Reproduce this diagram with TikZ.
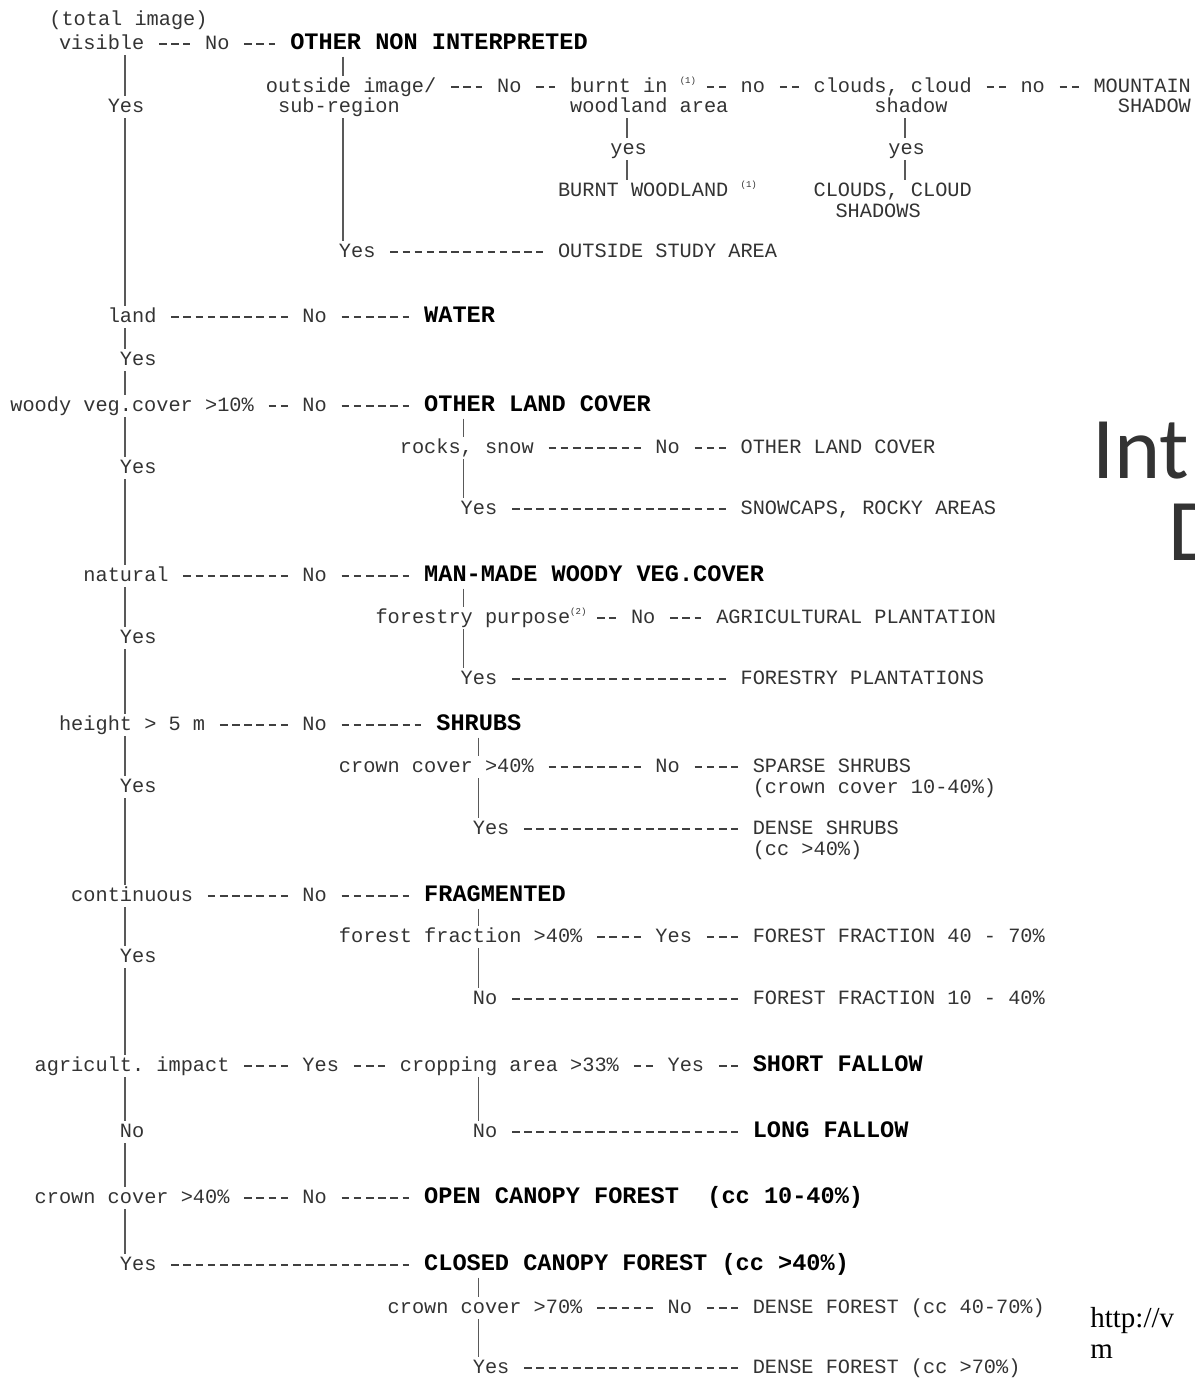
\documentclass[tikz,border=0pt]{standalone}
\usepackage{fontspec}
\usepackage{tikz}
\usetikzlibrary{calc}
\newfontfamily\chartfont{Liberation Mono}
\newfontfamily\slidefont{Carlito}
\newfontfamily\webfont{Liberation Serif}
% footnote mark, one typewriter cell wide
\newcommand{\supnote}[1]{\makebox[0.6em][l]{\raisebox{0.8ex}{\fontsize{4.5pt}{4.5pt}\selectfont(#1)}}}
\tikzset{
  lbl/.style={anchor=west, inner xsep=0pt, inner ysep=1pt, text height=7pt, text depth=2pt,
    font=\chartfont\frenchspacing\fontsize{10.14pt}{10.5pt}\selectfont, text=black!80},
  cls/.style={lbl, text height=8pt, text depth=2.3pt,
    font=\chartfont\frenchspacing\bfseries\fontsize{11.8pt}{12pt}\selectfont, text=black},
  hyph/.style={draw=black!75, line width=0.6pt, dash pattern=on 3.8pt off 2.285pt,
    shorten <=7.23pt, shorten >=7.23pt},
  stem/.style={draw=black!65, line width=0.55pt}
}
\begin{document}
% x counts typewriter columns, y counts pixels downwards
\begin{tikzpicture}[x=6.085pt, y=-0.5pt]
  \useasboundingbox (-0.8217,0) rectangle (97.37,1378);
  % x of the vertical lines
  \coordinate (trunk) at (9.45,0);
  \coordinate (brA) at (27.36,0);
  \coordinate (brB) at (37.3,0);
  \coordinate (brC) at (38.46,0);
  \coordinate (brW) at (50.7,0);
  \coordinate (brS) at (73.54,0);

  % main column
  \node[lbl] (total) at (3.2,20) {(total image)};
  \node[lbl] (visible) at (4,44) {visible};
  \node[lbl] (noA) at (16,44) {No};
  \node[cls] (oni) at (23,44) {OTHER NON INTERPRETED};
  \node[lbl] (yesA) at (8,107) {Yes};
  \node[lbl] (land) at (8,317) {land};
  \node[lbl] (noL) at (24,317) {No};
  \node[cls] (water) at (34,317) {WATER};
  \node[lbl] (yesL) at (9,360) {Yes};
  \node[lbl] (woody) at (0,406) {woody veg.cover >10\%};
  \node[lbl] (noW) at (24,406) {No};
  \node[cls] (olc) at (34,406) {OTHER LAND COVER};
  \node[lbl] (yesWd) at (9,468) {Yes};
  \node[lbl] (natural) at (6,576) {natural};
  \node[lbl] (noN) at (24,576) {No};
  \node[cls] (manmade) at (34,576) {MAN-MADE WOODY VEG.COVER};
  \node[lbl] (yesN) at (9,638) {Yes};
  \node[lbl] (height) at (4,725) {height > 5 m};
  \node[lbl] (noH) at (24,725) {No};
  \node[cls] (shrubs) at (35,725) {SHRUBS};
  \node[lbl] (yesH) at (9,787) {Yes};
  \node[lbl] (cont) at (5,896) {continuous};
  \node[lbl] (noCt) at (24,896) {No};
  \node[cls] (frag) at (34,896) {FRAGMENTED};
  \node[lbl] (yesCt) at (9,957) {Yes};
  \node[lbl] (agric) at (2,1066) {agricult.\ impact};
  \node[lbl] (yesAg) at (24,1066) {Yes};
  \node[lbl] (noAg) at (9,1132) {No};
  \node[lbl] (crownF) at (2,1198) {crown cover >40\%};
  \node[lbl] (noO) at (24,1198) {No};
  \node[cls] (open) at (34,1198) {OPEN CANOPY FOREST \ (cc 10-40\%)};
  \node[lbl] (yesO2) at (9,1265) {Yes};
  \node[cls] (closed) at (34,1265) {CLOSED CANOPY FOREST (cc >40\%)};

  % not interpreted
  \node[lbl] (outside) at (21,87) {outside image/};
  \node[lbl] (subreg) at (22,107) {sub-region};
  \node[lbl] (noB) at (40,87) {No};
  \node[lbl] (burnt) at (46,87) {burnt in \supnote{1}};
  \node[lbl] (woodland) at (46,107) {woodland area};
  \node[lbl] (noC) at (60,87) {no};
  \node[lbl] (clouds) at (66,87) {clouds, cloud};
  \node[lbl] (shadowA) at (71,107) {shadow};
  \node[lbl] (noD) at (83,87) {no};
  \node[lbl] (mountain) at (89,87) {MOUNTAIN};
  \node[lbl] (mountain2) at (91,107) {SHADOW};
  \node[lbl] (yesW) at (49.3,149) {yes};
  \node[lbl] (burntW) at (45,191) {BURNT WOODLAND \supnote{1}};
  \node[lbl] (yesC) at (72.14,149) {yes};
  \node[lbl] (cloudsU) at (66,191) {CLOUDS, CLOUD};
  \node[lbl] (cloudsU2) at (67.8,212) {SHADOWS};
  \node[lbl] (yesO) at (27,252) {Yes};
  \node[lbl] (osa) at (45,252) {OUTSIDE STUDY AREA};

  % other land cover
  \node[lbl] (rocks) at (32,448) {rocks, snow};
  \node[lbl] (noR) at (53,448) {No};
  \node[lbl] (olc2) at (60,448) {OTHER LAND COVER};
  \node[lbl] (yesR) at (37,509) {Yes};
  \node[lbl] (snow) at (60,509) {SNOWCAPS, ROCKY AREAS};

  % man-made
  \node[lbl] (forestry) at (30,618) {forestry purpose\supnote{2}};
  \node[lbl] (noF) at (51,618) {No};
  \node[lbl] (agri) at (58,618) {AGRICULTURAL PLANTATION};
  \node[lbl] (yesF) at (37,679) {Yes};
  \node[lbl] (fplant) at (60,679) {FORESTRY PLANTATIONS};

  % shrubs
  \node[lbl] (crownS) at (27,767) {crown cover >40\%};
  \node[lbl] (noS) at (53,767) {No};
  \node[lbl] (sparse) at (61,767) {SPARSE SHRUBS};
  \node[lbl] (sparse2) at (61,788) {(crown cover 10-40\%)};
  \node[lbl] (yesS) at (38,829) {Yes};
  \node[lbl] (dense) at (61,829) {DENSE SHRUBS};
  \node[lbl] (dense2) at (61,850) {(cc >40\%)};

  % fragmented
  \node[lbl] (fraction) at (27,937) {forest fraction >40\%};
  \node[lbl] (yesFr) at (53,937) {Yes};
  \node[lbl] (ffA) at (61,937) {FOREST FRACTION 40 - 70\%};
  \node[lbl] (noFr) at (38,999) {No};
  \node[lbl] (ffB) at (61,999) {FOREST FRACTION 10 - 40\%};

  % fallow
  \node[lbl] (crop) at (32,1066) {cropping area >33\%};
  \node[lbl] (yesCr) at (54,1066) {Yes};
  \node[cls] (short) at (61,1066) {SHORT FALLOW};
  \node[lbl] (noCr) at (38,1132) {No};
  \node[cls] (long) at (61,1132) {LONG FALLOW};

  % closed canopy
  \node[lbl] (crownS7) at (31,1308) {crown cover >70\%};
  \node[lbl] (noS7) at (54,1308) {No};
  \node[lbl] (dfA) at (61,1308) {DENSE FOREST (cc 40-70\%)};
  \node[lbl] (yesS7) at (38,1368) {Yes};
  \node[lbl] (dfB) at (61,1368) {DENSE FOREST (cc >70\%)};

  % vertical lines
  \draw[stem] (visible.south -| trunk) -- (yesA.north -| trunk)
    (yesA.south -| trunk) -- (land.north -| trunk)
    (land.south -| trunk) -- (yesL.north -| trunk)
    (yesL.south -| trunk) -- (woody.north -| trunk)
    (woody.south -| trunk) -- (yesWd.north -| trunk)
    (yesWd.south -| trunk) -- (natural.north -| trunk)
    (natural.south -| trunk) -- (yesN.north -| trunk)
    (yesN.south -| trunk) -- (height.north -| trunk)
    (height.south -| trunk) -- (yesH.north -| trunk)
    (yesH.south -| trunk) -- (cont.north -| trunk)
    (cont.south -| trunk) -- (yesCt.north -| trunk)
    (yesCt.south -| trunk) -- (agric.north -| trunk)
    (agric.south -| trunk) -- (noAg.north -| trunk)
    (noAg.south -| trunk) -- (crownF.north -| trunk)
    (crownF.south -| trunk) -- (yesO2.north -| trunk);
  \draw[stem] (oni.south -| brA) -- (outside.north -| brA)
    (subreg.south -| brA) -- (yesO.north -| brA);
  \draw[stem] (woodland.south -| brW) -- (yesW.north -| brW)
    (yesW.south -| brW) -- (burntW.north -| brW);
  \draw[stem] (shadowA.south -| brS) -- (yesC.north -| brS)
    (yesC.south -| brS) -- (cloudsU.north -| brS);
  \draw[stem] (olc.south -| brB) -- (rocks.north -| brB)
    (rocks.south -| brB) -- (yesR.north -| brB);
  \draw[stem] (manmade.south -| brB) -- (forestry.north -| brB)
    (forestry.south -| brB) -- (yesF.north -| brB);
  \draw[stem] (shrubs.south -| brC) -- (crownS.north -| brC)
    (crownS.south -| brC) -- (yesS.north -| brC);
  \draw[stem] (frag.south -| brC) -- (fraction.north -| brC)
    (fraction.south -| brC) -- (noFr.north -| brC);
  \draw[stem] (crop.south -| brC) -- (noCr.north -| brC);
  \draw[stem] (closed.south -| brC) -- (crownS7.north -| brC)
    (crownS7.south -| brC) -- (yesS7.north -| brC);

  % dashed links
  \draw[hyph] (visible) -- (noA);
  \draw[hyph] (noA) -- (oni);
  \draw[hyph] (outside) -- (noB);
  \draw[hyph] (noB) -- (burnt);
  \draw[hyph] (burnt) -- (noC);
  \draw[hyph] (noC) -- (clouds);
  \draw[hyph] (clouds) -- (noD);
  \draw[hyph] (noD) -- (mountain);
  \draw[hyph] (yesO) -- (osa);
  \draw[hyph] (land) -- (noL);
  \draw[hyph] (noL) -- (water);
  \draw[hyph] (woody) -- (noW);
  \draw[hyph] (noW) -- (olc);
  \draw[hyph] (rocks) -- (noR);
  \draw[hyph] (noR) -- (olc2);
  \draw[hyph] (yesR) -- (snow);
  \draw[hyph] (natural) -- (noN);
  \draw[hyph] (noN) -- (manmade);
  \draw[hyph] (forestry) -- (noF);
  \draw[hyph] (noF) -- (agri);
  \draw[hyph] (yesF) -- (fplant);
  \draw[hyph] (height) -- (noH);
  \draw[hyph] (noH) -- (shrubs);
  \draw[hyph] (crownS) -- (noS);
  \draw[hyph] (noS) -- (sparse);
  \draw[hyph] (yesS) -- (dense);
  \draw[hyph] (cont) -- (noCt);
  \draw[hyph] (noCt) -- (frag);
  \draw[hyph] (fraction) -- (yesFr);
  \draw[hyph] (yesFr) -- (ffA);
  \draw[hyph] (noFr) -- (ffB);
  \draw[hyph] (agric) -- (yesAg);
  \draw[hyph] (yesAg) -- (crop);
  \draw[hyph] (crop) -- (yesCr);
  \draw[hyph] (yesCr) -- (short);
  \draw[hyph] (noCr) -- (long);
  \draw[hyph] (crownF) -- (noO);
  \draw[hyph] (noO) -- (open);
  \draw[hyph] (yesO2) -- (closed);
  \draw[hyph] (crownS7) -- (noS7);
  \draw[hyph] (noS7) -- (dfA);
  \draw[hyph] (yesS7) -- (dfB);

  % cut-off slide text on the right
  \node[anchor=base west, inner sep=0pt, text=black!80,
    font=\slidefont\fontsize{44pt}{44pt}\selectfont] (title1) at (88.9,478) {Int};
  \node[anchor=base west, inner sep=0pt, text=black!80,
    font=\slidefont\fontsize{44pt}{44pt}\selectfont] (title2) at (95.15,560) {D};
  \node[anchor=west, inner sep=0pt, font=\webfont\fontsize{14.5pt}{15pt}\selectfont] (link1) at (88.74,1321) {http://v};
  \node[anchor=west, inner sep=0pt, font=\webfont\fontsize{14.5pt}{15pt}\selectfont] (link2) at (88.74,1352) {m};
\end{tikzpicture}
\end{document}
